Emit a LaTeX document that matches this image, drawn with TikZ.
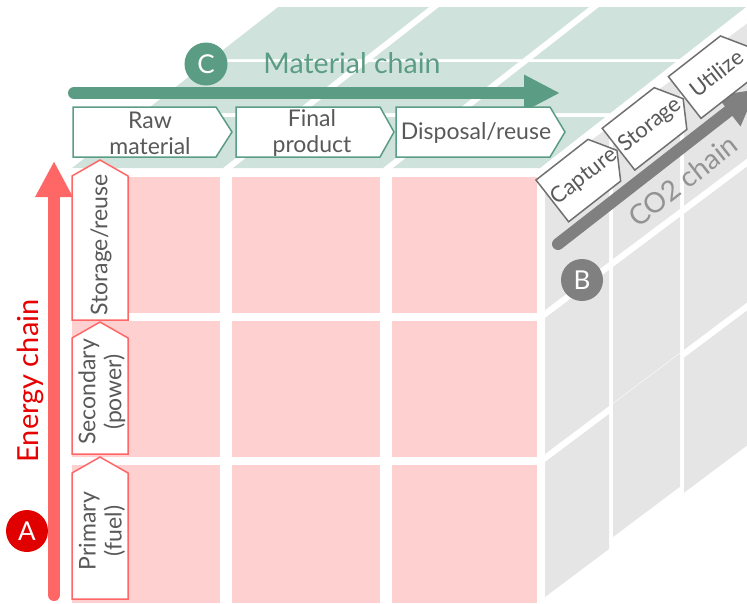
\documentclass[tikz,border=0pt]{standalone}
\usepackage{fontspec}
\setmainfont{Lato}
\usetikzlibrary{calc,arrows.meta}
\definecolor{pinkc}{HTML}{FFD0D0}
\definecolor{greenc}{HTML}{CFE2DC}
\definecolor{grayc}{HTML}{E5E5E5}
\definecolor{gdark}{HTML}{5B9C84}
\definecolor{redarrow}{HTML}{FF6666}
\definecolor{redtext}{HTML}{E60000}
\definecolor{redbadge}{HTML}{E00000}
\definecolor{graydark}{HTML}{808080}
\definecolor{textgray}{HTML}{595959}
\definecolor{co2text}{HTML}{939393}
\definecolor{boxgray}{HTML}{707070}
\begin{document}
\begin{tikzpicture}[x=1pt,y=-1pt,
  lbl/.style={text=textgray, font=\fontsize{23}{26}\selectfont, align=center, inner sep=0pt},
  gbox/.style={draw=gdark, fill=white, line width=1.5pt},
  rbox/.style={draw=redarrow, fill=white, line width=1.5pt},
  cbox/.style={draw=boxgray, fill=white, line width=1.5pt},
  badge/.style={circle, inner sep=0pt, minimum size=43pt, text=white, font=\fontsize{26}{30}\selectfont},
  chain/.style={font=\fontsize{28.5}{32}\selectfont, inner sep=0pt},
  chainarrow/.style={line width=12pt, line cap=round},
]
\useasboundingbox (0,0) rectangle (747,603);
\clip (0,0) rectangle (747,603);

% front face
\foreach \xa/\xb in {72/220,232/380,392/537}
  \foreach \ya/\yb in {177/313,321/457,465/603}
    \fill[pinkc] (\xa,\ya) rectangle (\xb,\yb);

% top face
\foreach \a/\b in {72/223,233/383,393/540}
  \foreach \yb/\yt in {168/117,113/62,59/7}
    \fill[greenc] ({\a+1.28*(168-\yb)},\yb) -- ({\b+1.28*(168-\yb)},\yb)
      -- ({\b+1.28*(168-\yt)},\yt) -- ({\a+1.28*(168-\yt)},\yt) -- cycle;

% side face
\foreach \xa/\xb/\ya/\yb in {545/609/175/310, 545/609/318/454, 545/609/462/597,
    613/680/175/310, 613/680/318/454, 613/680/454.8/588,
    684/760/175/310, 684/760/318/454, 684/760/462/597}
  \fill[grayc] (\xa,{\ya-0.75*(\xa-545)}) -- (\xb,{\ya-0.75*(\xb-545)})
    -- (\xb,{\yb-0.75*(\xb-545)}) -- (\xa,{\yb-0.75*(\xa-545)}) -- cycle;

% chain arrows
\coordinate (gA) at (74,93);
\coordinate (gB) at (560,93);
\draw[chainarrow, gdark, -{Triangle[length=36pt,width=34pt]}] (gA) -- (gB);
\coordinate (rA) at (54,595);
\coordinate (rB) at (54,161);
\draw[chainarrow, redarrow, -{Triangle[length=36pt,width=35pt]}] (rA) -- (rB);
\coordinate (kA) at (558,244);
\coordinate (kB) at (757,89);
\draw[chainarrow, graydark, -{Triangle[length=36pt,width=36pt]}] (kA) -- (kB);

% material stage boxes
\draw[gbox] (73,107) -- (216,107) -- (232,132) -- (216,157) -- (73,157) -- cycle;
\draw[gbox] (236,107) -- (380,107) -- (394,132) -- (380,157) -- (236,157) -- cycle;
\draw[gbox] (396,107) -- (550,107) -- (565,132) -- (550,157) -- (396,157) -- cycle;
\node[lbl] (raw) at (150,133) {Raw\\material};
\node[lbl] (final) at (312,133) {Final\\product};
\node[lbl, anchor=base] (disp) at (476,139) {Disposal/reuse};

% energy stage boxes
\draw[rbox] (72,320) -- (72,176) -- (100,160) -- (128,176) -- (128,320) -- cycle;
\draw[rbox] (72,454) -- (72,338) -- (100,322) -- (128,338) -- (128,454) -- cycle;
\draw[rbox] (72,599) -- (72,473) -- (100,457) -- (128,473) -- (128,599) -- cycle;
\node[lbl, rotate=90] (stor) at (101,245) {Storage/reuse};
\node[lbl, rotate=90] (sec) at (102,392) {Secondary\\(power)};
\node[lbl, rotate=90] (prim) at (102,531) {Primary\\(fuel)};

% CO2 stage boxes
\foreach \px/\py/\nm/\txt in {536/180/cap/Capture, 602.2/128.3/sto/Storage, 668.4/76.6/uti/Utilize}{
  \begin{scope}[shift={(\px,\py)}, rotate=38]
    \draw[cbox] (0,0) -- (66,0) -- (82,26.5) -- (66,53) -- (0,53) -- cycle;
    \node[lbl, rotate=38, font=\fontsize{22}{26}\selectfont] (\nm) at (40,27) {\txt};
  \end{scope}
}

% titles and badges
\node[badge, fill=gdark] (bC) at (206,64) {C};
\node[chain, text=gdark, anchor=base] (mat) at (352,73) {Material chain};
\node[badge, fill=graydark, minimum size=42pt] (bB) at (582,280) {B};
\node[chain, text=co2text, anchor=base, rotate=38, font=\fontsize{28}{32}\selectfont] (co2) at (689,189) {CO2 chain};
\node[badge, fill=redbadge, minimum size=42pt] (bA) at (27,531) {A};
\node[chain, text=redtext, anchor=base, rotate=90, font=\fontsize{29}{32}\selectfont] (en) at (38,381) {Energy chain};
\end{tikzpicture}
\end{document}
